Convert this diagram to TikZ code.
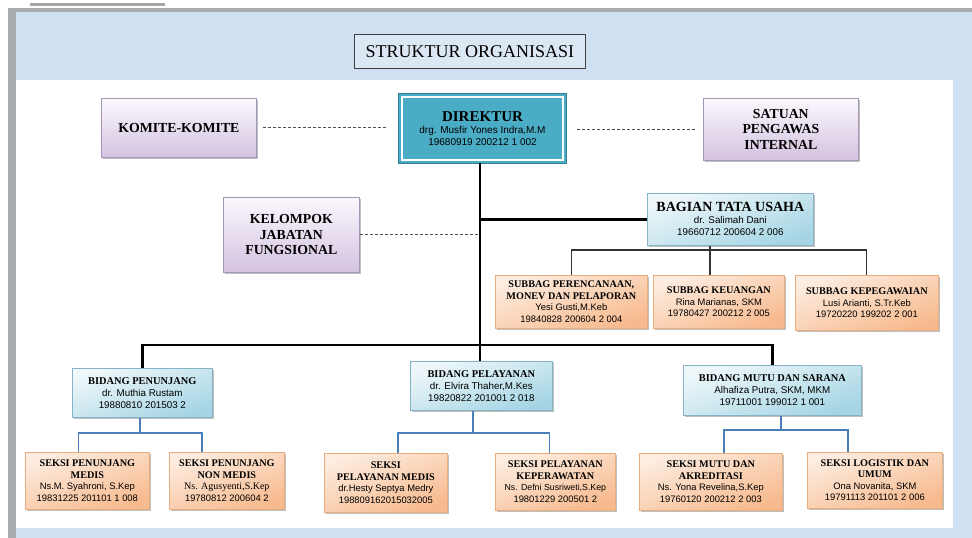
\documentclass[tikz,border=0pt]{standalone}
\usepackage{fontspec}
\setmainfont{Liberation Serif}
\newfontfamily\bodyf{Liberation Sans}
\usetikzlibrary{shadows}
\definecolor{bgblue}{HTML}{CFE0F2}
\definecolor{grayb}{HTML}{A7AAAE}
\definecolor{titlefill}{HTML}{DCE7F4}
\definecolor{dirteal}{HTML}{4BACC6}
\definecolor{dirborder}{HTML}{2E7F94}
\definecolor{lavtop}{HTML}{FBF8FD}
\definecolor{lavbot}{HTML}{D3C2E0}
\definecolor{lavline}{HTML}{A397B5}
\definecolor{bltop}{HTML}{EEF7FA}
\definecolor{blbot}{HTML}{A5D5E4}
\definecolor{blline}{HTML}{86B4C6}
\definecolor{pchtop}{HTML}{FDECDF}
\definecolor{pchbot}{HTML}{F7BA8E}
\definecolor{pchline}{HTML}{E9AE80}
\definecolor{treeblue}{HTML}{4A7EBB}
\definecolor{dashgray}{HTML}{505050}
\begin{document}
\begin{tikzpicture}[x=1pt,y=-1pt,
  shad/.style={drop shadow={shadow xshift=2pt,shadow yshift=-2pt,fill=black,opacity=0.25}},
  boxbase/.style={anchor=north west,align=center,inner sep=1pt,line width=0.7pt},
  lavbox/.style={boxbase,shad,top color=lavtop,bottom color=lavbot,draw=lavline,
    font=\bfseries\fontsize{13.8}{15.5}\selectfont},
  bluebox/.style={boxbase,shad,top color=bltop,bottom color=blbot,shading angle=20,draw=blline,
    font=\bodyf\fontsize{9.8}{12}\selectfont},
  peachbox/.style={boxbase,shad,top color=pchtop,bottom color=pchbot,shading angle=20,draw=pchline,
    font=\bodyf\fontsize{9.4}{11.5}\selectfont},
  dirbox/.style={boxbase,fill=dirteal,draw=dirborder,line width=1pt,
    font=\bodyf\fontsize{10}{12}\selectfont},
  titlebox/.style={boxbase,fill=titlefill,draw=black!75,line width=0.9pt,
    font=\fontsize{18}{22}\selectfont},
  ttl/.style={},
  mainline/.style={line width=2.8pt,black},
  thinline/.style={line width=1.2pt,black!80},
  blueline/.style={line width=1.5pt,treeblue},
  dashline/.style={line width=1pt,dashgray,dash pattern=on 3pt off 2pt}
]
\newcommand\bt[1]{{\rmfamily\bfseries\fontsize{10.2}{11.5}\selectfont #1}}
\newcommand\bbt[1]{{\rmfamily\bfseries\fontsize{10.4}{12}\selectfont #1}}
\useasboundingbox (0,0) rectangle (972,538);
% background
\fill[white] (0,0) rectangle (972,538);
\fill[bgblue] (16,12) rectangle (972,538);
\fill[grayb] (8,8) rectangle (972,12);
\fill[grayb] (8,8) rectangle (16,538);
\fill[black!35] (30,3) rectangle (165,6);
\fill[white] (16,80) rectangle (953,528);

% title
\node[titlebox,minimum width=231,minimum height=34] (title) at (354,34) {STRUKTUR ORGANISASI};

% director
\node[dirbox,minimum width=168,minimum height=70] (dir) at (398,93)
  {{\rmfamily\bfseries\fontsize{15}{15}\selectfont DIREKTUR}\\drg. Musfir Yones Indra,M.M\\19680919 200212 1 002};
\draw[white,line width=1.6pt] ([shift={(4,4)}]dir.north west) rectangle ([shift={(-4,-4)}]dir.south east);

% staff boxes
\node[lavbox,minimum width=155,minimum height=59] (kom) at (101,98) {KOMITE-KOMITE};
\node[lavbox,minimum width=155,minimum height=62] (spi) at (703,98) {SATUAN\\PENGAWAS\\INTERNAL};
\node[lavbox,minimum width=136,minimum height=75] (kel) at (223,197) {KELOMPOK\\JABATAN\\FUNGSIONAL};

% tata usaha
\node[bluebox,minimum width=166,minimum height=52] (tu) at (647,193)
  {{\rmfamily\bfseries\fontsize{14}{15}\selectfont BAGIAN TATA USAHA}\\dr. Salimah Dani\\19660712 200604 2 006};
\node[peachbox,minimum width=152,minimum height=53] (per) at (495,275)
  {\bt{SUBBAG PERENCANAAN,}\\\bt{MONEV DAN PELAPORAN}\\Yesi Gusti,M.Keb\\19840828 200604 2 004};
\node[peachbox,minimum width=131,minimum height=53] (keu) at (653,275)
  {\bt{SUBBAG KEUANGAN}\\Rina Marianas, SKM\\19780427 200212 2 005};
\node[peachbox,minimum width=143,minimum height=55] (kep) at (795,275)
  {\bt{SUBBAG KEPEGAWAIAN}\\Lusi Arianti, S.Tr.Keb\\19720220 199202 2 001};

% bidang
\node[bluebox,minimum width=140,minimum height=49] (bpen) at (72,368)
  {\bbt{BIDANG PENUNJANG}\\dr. Muthia Rustam\\19880810 201503 2};
\node[bluebox,minimum width=142,minimum height=49] (bpel) at (410,361)
  {\bbt{BIDANG PELAYANAN}\\dr. Elvira Thaher,M.Kes\\19820822 201001 2 018};
\node[bluebox,minimum width=178,minimum height=50] (bmut) at (683,365)
  {\bbt{BIDANG MUTU DAN SARANA}\\Alhafiza Putra, SKM, MKM\\19711001 199012 1 001};

% seksi
\node[peachbox,minimum width=124,minimum height=57] (pm) at (25,452)
  {\bt{SEKSI PENUNJANG}\\\bt{MEDIS}\\Ns.M. Syahroni, S.Kep\\19831225 201101 1 008};
\node[peachbox,minimum width=115,minimum height=57] (pnm) at (169,452)
  {\bt{SEKSI PENUNJANG}\\\bt{NON MEDIS}\\{\rmfamily\fontsize{10}{11.5}\selectfont Ns. Agusyenti,S.Kep}\\19780812 200604 2};
\node[peachbox,minimum width=123,minimum height=59] (plm) at (324,453)
  {\bt{SEKSI}\\\bt{PELAYANAN MEDIS}\\dr.Hesty Septya Medry\\198809162015032005};
\node[peachbox,minimum width=120,minimum height=57] (plk) at (495,453)
  {\bt{SEKSI PELAYANAN}\\\bt{KEPERAWATAN}\\{\fontsize{8.8}{11.5}\selectfont Ns. Defni Susriweti,S.Kep}\\19801229 200501 2};
\node[peachbox,minimum width=143,minimum height=57] (mut) at (639,453)
  {\bt{SEKSI MUTU DAN}\\\bt{AKREDITASI}\\Ns. Yona Revelina,S.Kep\\19760120 200212 2 003};
\node[peachbox,minimum width=135,minimum height=56] (log) at (807,452)
  {\bt{SEKSI LOGISTIK DAN}\\\bt{UMUM}\\Ona Novanita, SKM\\19791113 201101 2 006};

% coordinates for bars
\coordinate (trunk) at (480,163);
\coordinate (bbar) at (480,345);
\coordinate (sbar) at (710,250);
\coordinate (b1bar) at (140,433);
\coordinate (b2bar) at (473,433);
\coordinate (b3bar) at (781,430);

% dashed staff links
\draw[dashline,shorten <=6pt,shorten >=12pt] (kom.east) -- (kom.east -| dir.west);
\draw[dashline,shorten <=10pt,shorten >=6pt] (spi.west -| dir.east) -- (spi.west);
\draw[dashline] (kel.east) -- (kel.east -| trunk);

% main lines
\draw[mainline] (trunk) -- (bpel.north -| trunk);
\draw[mainline] (tu.west -| trunk) -- (tu.west);
\draw[mainline] (bpen.north) |- (bbar) -| (bmut.north);

% tata usaha tree
\draw[thinline] (tu.south -| sbar) -- (keu.north -| sbar);
\draw[thinline] (per.north) |- (sbar) -| (kep.north);

% bidang trees
\draw[blueline] (bpen.south -| b1bar) -- (b1bar);
\draw[blueline] ([xshift=-9pt]pm.north) |- (b1bar) -| ([xshift=-25pt]pnm.north);
\draw[blueline] (bpel.south -| b2bar) -- (b2bar);
\draw[blueline] ([xshift=12pt]plm.north) |- (b2bar) -| ([xshift=-6pt]plk.north);
\draw[blueline] (bmut.south -| b3bar) -- (b3bar);
\draw[blueline] ([xshift=13pt]mut.north) |- (b3bar) -| ([xshift=-27pt]log.north);
\end{tikzpicture}
\end{document}
